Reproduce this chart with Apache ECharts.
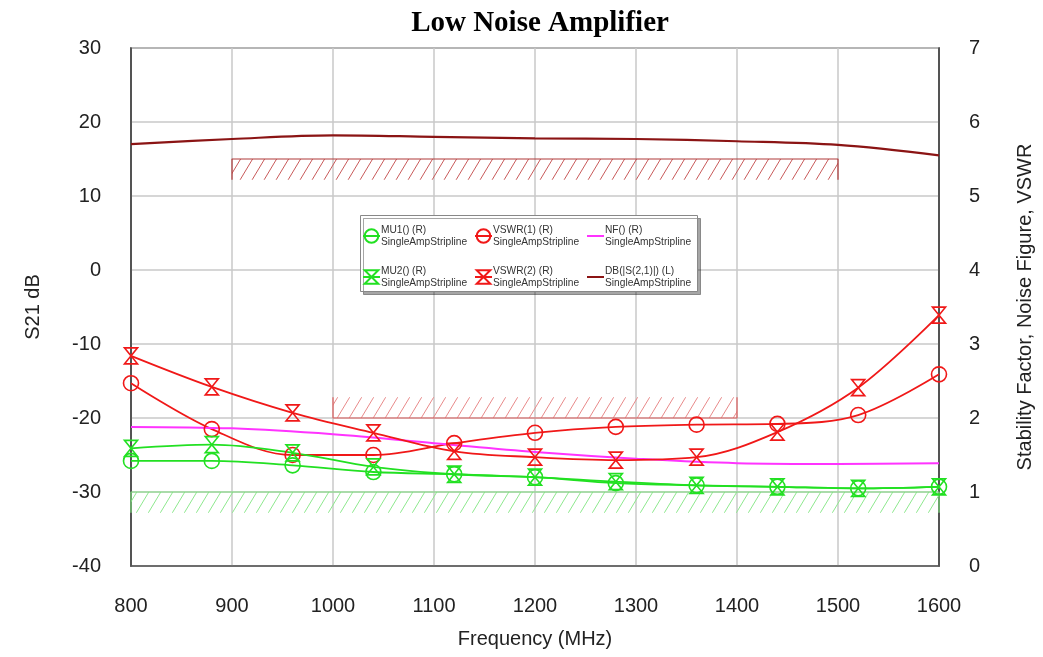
<!DOCTYPE html>
<html>
<head>
<meta charset="utf-8">
<script src="https://cdn.jsdelivr.net/npm/echarts@6/dist/echarts.min.js"></script>
<style>html,body{margin:0;padding:0;background:#fff}#c{width:1043px;height:657px}</style>
</head>
<body>
<div id="c"></div>
<script>
// ---- data ----
const markerFreqs = [800, 880, 960, 1040, 1120, 1200, 1280, 1360, 1440, 1520, 1600];
const mu1   = [1.42, 1.42, 1.36, 1.27, 1.24, 1.20, 1.12, 1.09, 1.07, 1.05, 1.07];
const mu2   = [1.59, 1.64, 1.53, 1.34, 1.24, 1.20, 1.14, 1.09, 1.07, 1.05, 1.07];
const vswr1 = [2.47, 1.85, 1.50, 1.50, 1.66, 1.80, 1.88, 1.91, 1.92, 2.04, 2.59];
const vswr2 = [2.84, 2.42, 2.07, 1.80, 1.55, 1.47, 1.43, 1.47, 1.81, 2.41, 3.39];
const lineFreqs = [800, 900, 1000, 1100, 1200, 1300, 1400, 1500, 1600];
const nf    = [1.88, 1.86, 1.78, 1.66, 1.54, 1.45, 1.39, 1.38, 1.39];
const s21   = [17.0, 17.7, 18.2, 18.0, 17.8, 17.7, 17.4, 16.9, 15.5];
// spec goals: [fromFreq, toFreq, limit, hatch edge]
const s21Goal  = [900, 1500, 15, 12.2];
const vswrGoal = [1000, 1400, 2.0, 2.28];
const muGoal   = [800, 1600, 1.0, 0.72];
const xTicks = [800, 1600, 100];
const leftTicks = [-40, 30, 10];
const rightTicks = [0, 7, 1];
const seriesNames = ['MU1() (R)', 'VSWR(1) (R)', 'NF() (R)', 'MU2() (R)', 'VSWR(2) (R)', 'DB(|S(2,1)|) (L)'];
const docName = 'SingleAmpStripline';

// ---- helpers ----
function pairs(xs, ys) { return xs.map((x, i) => [x, ys[i]]); }
function hatch(color) {
  const w = 12, h = 20;
  const c = document.createElement('canvas');
  c.width = w; c.height = h;
  const g = c.getContext('2d');
  g.strokeStyle = color; g.lineWidth = 1;
  g.beginPath();
  g.moveTo(0, h); g.lineTo(w, 0);
  g.moveTo(-w, h); g.lineTo(0, 0);
  g.moveTo(w, h); g.lineTo(2 * w, 0);
  g.stroke();
  return { image: c, repeat: 'repeat' };
}
function goalSeries(goal, yIdx, lineColor, hatchColor) {
  const [a, b, lim, edge] = goal;
  return {
    type: 'line', yAxisIndex: yIdx, symbol: 'none', silent: true, z: 1,
    lineStyle: { color: lineColor, width: 1.2 },
    data: [[a, edge], [a, lim], [b, lim], [b, edge]],
    markArea: {
      silent: true,
      itemStyle: { color: hatch(hatchColor), borderWidth: 0 },
      data: [[{ xAxis: a, yAxis: Math.min(lim, edge) }, { xAxis: b, yAxis: Math.max(lim, edge) }]]
    }
  };
}

const RED = '#f01818', GREEN = '#22e022', MAG = '#ff33ff', DRED = '#8b1414';
const hourglass = 'path://M0,0 L12,0 L6,8 L12,16 L0,16 L6,8 Z';
const font = 'Liberation Sans, Arial, sans-serif';

function markerSeries(name, data, color, symbol, size) {
  return {
    name, type: 'line', yAxisIndex: 1, smooth: 0.35, z: 3,
    data: pairs(markerFreqs, data),
    symbol, symbolSize: size, showAllSymbol: true,
    lineStyle: { color, width: 1.8 },
    itemStyle: { color: 'rgba(255,255,255,0)', borderColor: color, borderWidth: 1.6 }
  };
}

const legendRich = { a: { fontSize: 10.2, lineHeight: 12, width: 93, color: '#333', fontFamily: font } };
function legendItem(n, i) {
  if (i === 2) return { name: n, itemStyle: { opacity: 0 } };
  return { name: n };
}
function legendFor(names, top) {
  return {
    data: names.map(legendItem), left: 357, top, orient: 'horizontal', itemGap: 0,
    itemWidth: 17, itemHeight: 17, z: 6,
    formatter: n => '{a|' + n + '}\n{a|' + docName + '}',
    textStyle: { rich: legendRich, padding: [0, 0, 0, -4] },
    selectedMode: false
  };
}

const chart = echarts.init(document.getElementById('c'), null, { renderer: 'canvas' });
chart.setOption({
  animation: false,
  backgroundColor: '#fff',
  title: {
    text: 'Low Noise Amplifier', left: 535, top: 4, textAlign: 'center',
    textStyle: { fontFamily: 'Liberation Serif, Times New Roman, serif', fontWeight: 'bold', fontSize: 29, color: '#000' }
  },
  grid: { left: 131, right: 104, top: 48, bottom: 91, show: true, borderColor: '#555', borderWidth: 1.5, backgroundColor: 'transparent' },
  graphic: [{
    type: 'rect', left: 360, top: 215, z: 5,
    shape: { width: 337, height: 76 },
    style: { fill: '#fff', stroke: '#888', lineWidth: 1, shadowBlur: 0, shadowOffsetX: 3, shadowOffsetY: 3, shadowColor: 'rgba(0,0,0,0.35)' }
  }],
  legend: [legendFor(seriesNames.slice(0, 3), 220), legendFor(seriesNames.slice(3), 261)],
  xAxis: {
    type: 'value', min: xTicks[0], max: xTicks[1], interval: xTicks[2],
    name: 'Frequency (MHz)', nameLocation: 'middle', nameGap: 63,
    nameTextStyle: { fontSize: 20, fontFamily: font, color: '#222' },
    axisLine: { show: true, onZero: false, lineStyle: { color: '#555', width: 1.5 } },
    axisTick: { show: false },
    axisLabel: { fontSize: 20, fontFamily: font, color: '#222', margin: 30, formatter: v => String(v) },
    splitLine: { show: true, lineStyle: { color: '#c8c8c8', width: 1.5 } }
  },
  yAxis: [{
    type: 'value', min: leftTicks[0], max: leftTicks[1], interval: leftTicks[2],
    name: 'S21 dB', nameLocation: 'middle', nameGap: 88, nameRotate: 90,
    nameTextStyle: { fontSize: 20, fontFamily: font, color: '#222' },
    axisLine: { show: true, onZero: false, lineStyle: { color: '#333', width: 1.5 } },
    axisTick: { show: false },
    axisLabel: { fontSize: 20, fontFamily: font, color: '#222', margin: 30 },
    splitLine: { show: true, lineStyle: { color: '#c8c8c8', width: 1.5 } }
  }, {
    type: 'value', min: rightTicks[0], max: rightTicks[1], interval: rightTicks[2], position: 'right',
    name: 'Stability Factor, Noise Figure, VSWR', nameLocation: 'middle', nameGap: 76, nameRotate: 90,
    nameTextStyle: { fontSize: 20, fontFamily: font, color: '#222' },
    axisLine: { show: true, onZero: false, lineStyle: { color: '#333', width: 1.5 } },
    axisTick: { show: false },
    axisLabel: { fontSize: 20, fontFamily: font, color: '#222', margin: 30 },
    splitLine: { show: false }
  }],
  series: [
    goalSeries(s21Goal, 0, '#b03a3a', '#c85a5a'),
    goalSeries(vswrGoal, 1, '#e06060', '#e88a8a'),
    goalSeries(muGoal, 1, '#7ee07e', '#8ee88e'),
    markerSeries(seriesNames[0], mu1, GREEN, 'circle', 15),
    markerSeries(seriesNames[1], vswr1, RED, 'circle', 15),
    {
      name: seriesNames[2], type: 'line', yAxisIndex: 1, smooth: 0.35, symbol: 'none', z: 3,
      data: pairs(lineFreqs, nf), lineStyle: { color: MAG, width: 2 }, itemStyle: { color: MAG }
    },
    markerSeries(seriesNames[3], mu2, GREEN, hourglass, [13, 16]),
    markerSeries(seriesNames[4], vswr2, RED, hourglass, [13, 16]),
    {
      name: seriesNames[5], type: 'line', yAxisIndex: 0, smooth: 0.35, symbol: 'none', z: 3,
      data: pairs(lineFreqs, s21), lineStyle: { color: DRED, width: 2.2 }, itemStyle: { color: DRED }
    }
  ]
});
</script>
</body>
</html>
